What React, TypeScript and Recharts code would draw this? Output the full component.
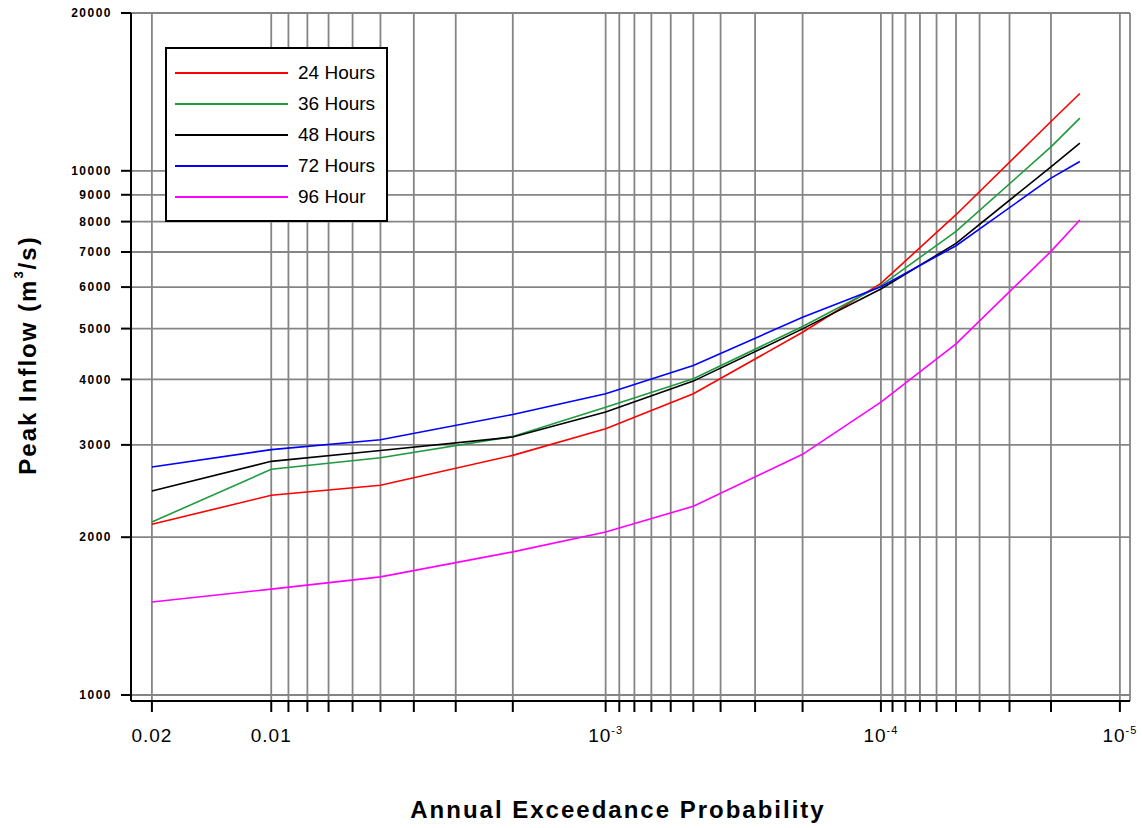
import React from 'react';
import { LineChart, Line, XAxis, YAxis, CartesianGrid, Legend } from 'recharts';

// annual exceedance probabilities where the curves were computed
const probabilities = [0.02, 0.01, 0.005, 0.002, 0.001, 0.0005, 0.0002, 0.0001, 0.00005, 0.00002, 0.000015];

// peak inflow (m3/s) per storm duration
const hours24 = [2117, 2404, 2512, 2865, 3221, 3755, 4920, 6100, 8246, 12415, 14040];
const hours36 = [2138, 2695, 2836, 3114, 3541, 4011, 5045, 6040, 7663, 11110, 12600];
const hours48 = [2449, 2791, 2928, 3105, 3465, 3970, 4994, 5950, 7271, 10177, 11290];
const hours72 = [2722, 2938, 3069, 3429, 3755, 4252, 5255, 6010, 7194, 9683, 10420];
const hours96 = [1505, 1592, 1680, 1875, 2047, 2291, 2878, 3620, 4677, 7020, 8054];

// probability paper grid
const xGridProbs = [
  0.02, 0.01, 0.009, 0.008, 0.007, 0.006, 0.005, 0.004, 0.003, 0.002,
  0.001, 0.0009, 0.0008, 0.0007, 0.0006, 0.0005, 0.0004, 0.0003, 0.0002,
  0.0001, 0.00009, 0.00008, 0.00007, 0.00006, 0.00005, 0.00004, 0.00003, 0.00002,
  0.00001,
];
const xMajorLabels: { p: number; base: string; exp?: string }[] = [
  { p: 0.02, base: '0.02' },
  { p: 0.01, base: '0.01' },
  { p: 0.001, base: '10', exp: '-3' },
  { p: 0.0001, base: '10', exp: '-4' },
  { p: 0.00001, base: '10', exp: '-5' },
];
const yTicks = [1000, 2000, 3000, 4000, 5000, 6000, 7000, 8000, 9000, 10000, 20000];

const series = [
  { key: 'h24', name: '24 Hours', color: '#ff0000', values: hours24 },
  { key: 'h36', name: '36 Hours', color: '#1f9a3e', values: hours36 },
  { key: 'h48', name: '48 Hours', color: '#000000', values: hours48 },
  { key: 'h72', name: '72 Hours', color: '#0000ff', values: hours72 },
  { key: 'h96', name: '96 Hour', color: '#ff00ff', values: hours96 },
];

// inverse standard normal (Acklam) -> normal probability paper axis
function normInv(p: number): number {
  const a = [-39.69683028665376, 220.9460984245205, -275.9285104469687, 138.357751867269, -30.66479806614716, 2.506628277459239];
  const b = [-54.47609879822406, 161.5858368580409, -155.6989798598866, 66.80131188771972, -13.28068155288572];
  const c = [-0.007784894002430293, -0.3223964580411365, -2.400758277161838, -2.549732539343734, 4.374664141464968, 2.938163982698783];
  const d = [0.007784695709041462, 0.3224671290700398, 2.445134137142996, 3.754408661907416];
  const plow = 0.02425;
  if (p < plow) {
    const q = Math.sqrt(-2 * Math.log(p));
    return (((((c[0] * q + c[1]) * q + c[2]) * q + c[3]) * q + c[4]) * q + c[5]) /
      ((((d[0] * q + d[1]) * q + d[2]) * q + d[3]) * q + 1);
  }
  if (p > 1 - plow) return -normInv(1 - p);
  const q = p - 0.5;
  const r = q * q;
  return (((((a[0] * r + a[1]) * r + a[2]) * r + a[3]) * r + a[4]) * r + a[5]) * q /
    (((((b[0] * r + b[1]) * r + b[2]) * r + b[3]) * r + b[4]) * r + 1);
}
const zOf = (p: number) => -normInv(p);

const data = probabilities.map((p, i) => {
  const row: Record<string, number> = { z: zOf(p), p };
  series.forEach(s => { row[s.key] = s.values[i]; });
  return row;
});

const xTicks = xGridProbs.map(zOf);

const FONT = '"Liberation Sans", Arial, sans-serif';

const XTick = ({ x, payload }: any) => {
  const major = xMajorLabels.find(m => Math.abs(zOf(m.p) - payload.value) < 1e-6);
  if (!major) return null;
  return (
    <text x={x} y={742} textAnchor="middle" fontFamily={FONT} fontSize={19} letterSpacing={1} fill="#000">
      <tspan>{major.base}</tspan>
      {major.exp && <tspan dy={-8} fontSize={11}>{major.exp}</tspan>}
    </text>
  );
};

const YTitle = () => (
  <text
    x={27}
    y={355}
    transform="rotate(-90 27 355)"
    textAnchor="middle"
    dominantBaseline="central"
    fontFamily={FONT}
    fontSize={24}
    letterSpacing={2}
    fontWeight="bold"
    fill="#000"
  >
    Peak Inflow (m<tspan dy={-9} fontSize={13}>3</tspan><tspan dy={9}>/s)</tspan>
  </text>
);

const XTitle = () => (
  <text x={618} y={818} textAnchor="middle" fontFamily={FONT} fontSize={24} letterSpacing={2} fontWeight="bold" fill="#000">
    Annual Exceedance Probability
  </text>
);

const LegendBox = () => (
  <div
    style={{
      width: 219,
      height: 171,
      border: '2px solid #000',
      background: '#fff',
      boxSizing: 'content-box',
      fontFamily: FONT,
    }}
  >
    {series.map((s, i) => (
      <div key={s.key} style={{ position: 'absolute', left: 10, top: 16 + i * 31, display: 'flex', alignItems: 'center', height: 20 }}>
        <svg width={113} height={4} style={{ display: 'block' }}>
          <line x1={0} x2={113} y1={2} y2={2} stroke={s.color} strokeWidth={2} />
        </svg>
        <span style={{ marginLeft: 10, fontSize: 19, color: '#000', lineHeight: '20px' }}>{s.name}</span>
      </div>
    ))}
  </div>
);

export default function App() {
  return (
    <div style={{ position: 'absolute', left: 0, top: 0, width: 1142, height: 828, background: '#fff' }}>
      <LineChart width={1142} height={828} data={data} margin={{ top: 13, right: 12, bottom: 0, left: 0 }}>
        <CartesianGrid stroke="#858585" strokeWidth={1.8} />
        <XAxis
          type="number"
          dataKey="z"
          domain={[2.006, 4.288]}
          allowDataOverflow
          ticks={xTicks}
          interval={0}
          height={127}
          tickSize={11}
          tick={<XTick />}
          axisLine={{ stroke: '#000', strokeWidth: 2 }}
          tickLine={{ stroke: '#000', strokeWidth: 2 }}
          label={<XTitle />}
        />
        <YAxis
          type="number"
          scale="log"
          domain={[1000, 20000]}
          allowDataOverflow
          ticks={yTicks}
          interval={0}
          width={131}
          padding={{ top: 0, bottom: 6 }}
          tickSize={10}
          tickMargin={9}
          tick={{ fontFamily: FONT, fontSize: 12, fontWeight: 'bold', fill: '#000', letterSpacing: 1.5 }}
          axisLine={{ stroke: '#000', strokeWidth: 2 }}
          tickLine={{ stroke: '#000', strokeWidth: 2 }}
          label={<YTitle />}
        />
        <Legend
          layout="vertical"
          align="center"
          verticalAlign="middle"
          wrapperStyle={{ left: 165, top: 47, width: 223, height: 175 }}
          content={<LegendBox />}
        />
        {series.map(s => (
          <Line
            key={s.key}
            type="linear"
            dataKey={s.key}
            name={s.name}
            stroke={s.color}
            strokeWidth={1.6}
            dot={false}
            activeDot={false}
            isAnimationActive={false}
          />
        ))}
      </LineChart>
    </div>
  );
}
